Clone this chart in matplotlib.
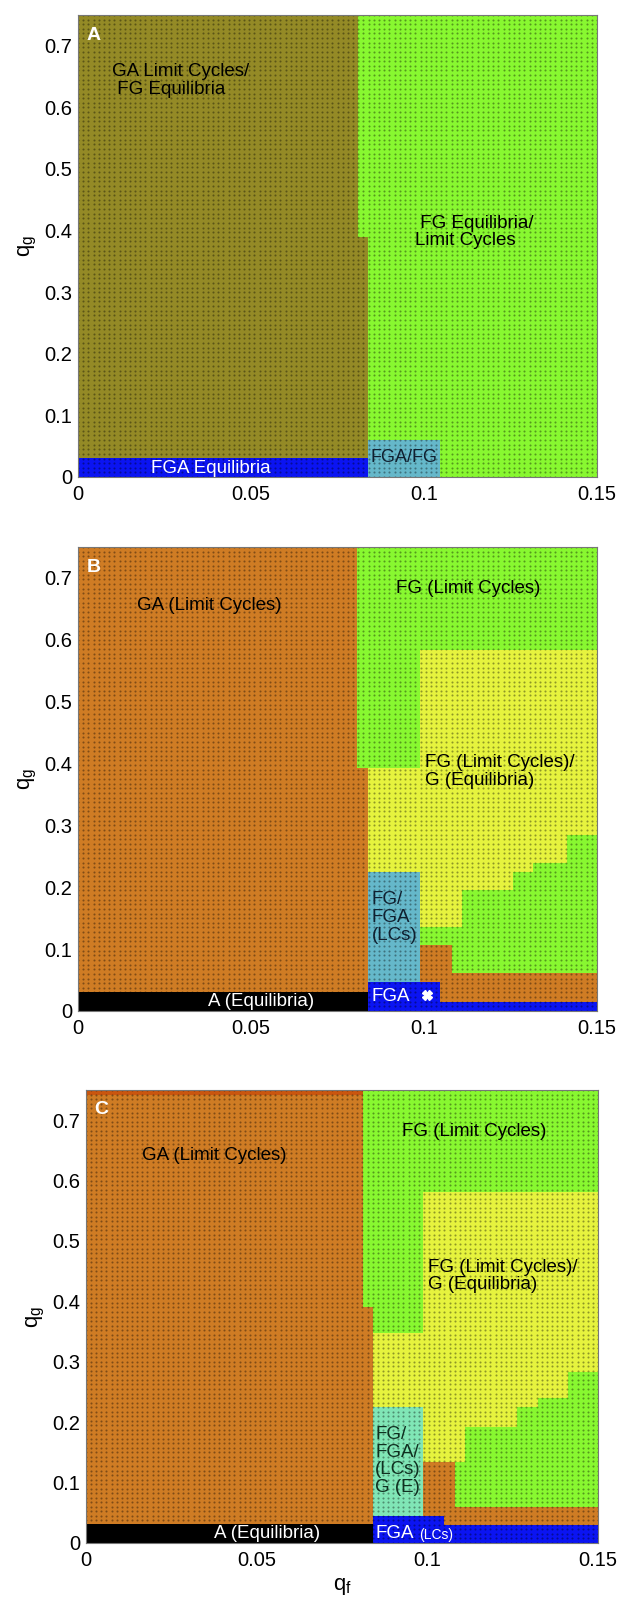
import numpy as np
import matplotlib.pyplot as plt
from matplotlib.patches import Rectangle

plt.rcParams['font.family'] = ['Liberation Sans', 'DejaVu Sans']

# phase regions: (qf_start, qf_end, qg_start, qg_end, phase), drawn in order
regions_a = [
    (0.0, 0.15, 0.0, 0.75, 'olive'),
    (0.081, 0.15, 0.389, 0.75, 'green'),
    (0.0838, 0.15, 0.0, 0.389, 'green'),
    (0.0838, 0.1046, 0.0, 0.0606, 'teal'),
    (0.0, 0.0838, 0.0, 0.031, 'blue'),
]
regions_b = [
    (0.0, 0.15, 0.0, 0.75, 'orange'),
    (0.0805, 0.15, 0.392, 0.75, 'green'),
    (0.0988, 0.15, 0.392, 0.583, 'yellow'),
    (0.0838, 0.15, 0.0, 0.392, 'yellow'),
    (0.1412, 0.15, 0.0, 0.284, 'green'),
    (0.1316, 0.15, 0.0, 0.2386, 'green'),
    (0.1258, 0.15, 0.0, 0.225, 'green'),
    (0.1109, 0.15, 0.0, 0.1955, 'green'),
    (0.0988, 0.15, 0.0, 0.136, 'green'),
    (0.0988, 0.108, 0.0, 0.1066, 'orange'),
    (0.0988, 0.15, 0.0, 0.061, 'orange'),
    (0.0838, 0.0988, 0.0, 0.225, 'teal'),
    (0.0838, 0.1046, 0.0, 0.047, 'blue'),
    (0.0838, 0.15, 0.0, 0.015, 'blue'),
    (0.0, 0.0838, 0.0, 0.031, 'black'),
]
regions_c = [
    (0.0, 0.15, 0.0, 0.75, 'orange'),
    (0.0, 0.0811, 0.741, 0.75, 'darkorange'),
    (0.0811, 0.15, 0.391, 0.75, 'green'),
    (0.0842, 0.0988, 0.347, 0.391, 'green'),
    (0.0988, 0.15, 0.347, 0.5817, 'yellow'),
    (0.0842, 0.15, 0.0, 0.347, 'yellow'),
    (0.1413, 0.15, 0.0, 0.2836, 'green'),
    (0.1325, 0.15, 0.0, 0.2395, 'green'),
    (0.1262, 0.15, 0.0, 0.2257, 'green'),
    (0.111, 0.15, 0.0, 0.1926, 'green'),
    (0.108, 0.15, 0.0, 0.1346, 'green'),
    (0.0988, 0.108, 0.0, 0.1346, 'orange'),
    (0.0988, 0.15, 0.0, 0.06, 'orange'),
    (0.0842, 0.0988, 0.0, 0.2257, 'aqua'),
    (0.0842, 0.105, 0.0, 0.0447, 'blue'),
    (0.0842, 0.15, 0.0, 0.0298, 'blue'),
    (0.0, 0.0842, 0.0, 0.031, 'black'),
]

# region labels: (qf, qg, text, colour, size, alignment)
labels_a = [
    (0.0098, 0.644, 'GA Limit Cycles/\n FG Equilibria', 'k', 13.5, 'left'),
    (0.0975, 0.398, ' FG Equilibria/\nLimit Cycles', 'k', 13.5, 'left'),
    (0.0385, 0.0146, 'FGA Equilibria', 'w', 13.5, 'center'),
    (0.0845, 0.031, 'FGA/FG', '#102030', 13, 'left'),
]
labels_b = [
    (0.017, 0.656, 'GA (Limit Cycles)', 'k', 13.5, 'left'),
    (0.092, 0.683, 'FG (Limit Cycles)', 'k', 13.5, 'left'),
    (0.1003, 0.387, 'FG (Limit Cycles)/\nG (Equilibria)', 'k', 13.5, 'left'),
    (0.0849, 0.151, 'FG/\nFGA\n(LCs)', '#102030', 13.5, 'left'),
    (0.0849, 0.024, 'FGA', 'w', 13.5, 'left'),
    (0.053, 0.0155, 'A (Equilibria)', 'w', 13.5, 'center'),
]
labels_c = [
    (0.0163, 0.642, 'GA (Limit Cycles)', 'k', 13.5, 'left'),
    (0.0925, 0.681, 'FG (Limit Cycles)', 'k', 13.5, 'left'),
    (0.1003, 0.442, 'FG (Limit Cycles)/\nG (Equilibria)', 'k', 13.5, 'left'),
    (0.0847, 0.136, 'FG/\nFGA/\n(LCs)\nG (E)', '#103020', 13.5, 'left'),
    (0.0847, 0.015, 'FGA', 'w', 13.5, 'left'),
    (0.0976, 0.013, '(LCs)', 'w', 10, 'left'),
    (0.053, 0.0155, 'A (Equilibria)', 'w', 13.5, 'center'),
]
star_b = (0.101, 0.026)

phase_colors = {
    'olive': '#948a26',
    'green': '#88f830',
    'teal': '#65b8ca',
    'blue': '#0b14f2',
    'orange': '#cf7c24',
    'darkorange': '#c9560f',
    'yellow': '#e6f33e',
    'aqua': '#80e6b6',
    'black': '#000000',
}

xticks = [0, 0.05, 0.1, 0.15]
xticklabels = ['0', '0.05', '0.1', '0.15']
yticks = [0, 0.1, 0.2, 0.3, 0.4, 0.5, 0.6, 0.7]
yticklabels = ['0', '0.1', '0.2', '0.3', '0.4', '0.5', '0.6', '0.7']

W, H = 617, 1600
fig = plt.figure(figsize=(W / 100, H / 100), dpi=100)
boxes = [(78, 15, 597, 477), (78, 547, 597, 1011), (86, 1090, 598, 1543)]
panels = [('A', regions_a, labels_a), ('B', regions_b, labels_b), ('C', regions_c, labels_c)]

# dotted simulation grid texture
gx, gy = np.meshgrid(np.linspace(0, 0.15, 101), np.linspace(0, 0.75, 101))

for (l, t, r, b), (letter, regions, labels) in zip(boxes, panels):
    ax = fig.add_axes([l / W, 1 - b / H, (r - l) / W, (b - t) / H])
    for x0, x1, y0, y1, ph in regions:
        ax.add_patch(Rectangle((x0, y0), x1 - x0, y1 - y0, facecolor=phase_colors[ph],
                               edgecolor='none', zorder=1))
    ax.scatter(gx.ravel(), gy.ravel(), s=2.2, c='k', alpha=0.38, linewidths=0, zorder=2)
    for x, y, txt, col, fs, ha in labels:
        ax.text(x, y, txt, color=col, fontsize=fs, ha=ha, va='center',
                linespacing=1.05, zorder=3)
    ax.text(0.0025, 0.717, letter, color='w', fontsize=14, fontweight='bold',
            ha='left', va='center', zorder=3)
    if letter == 'B':
        ax.plot(*star_b, marker='X', color='w', markersize=7, zorder=3)
    ax.set_xlim(0, 0.15)
    ax.set_ylim(0, 0.75)
    ax.set_xticks(xticks)
    ax.set_xticklabels(xticklabels)
    ax.set_yticks(yticks)
    ax.set_yticklabels(yticklabels)
    ax.tick_params(length=0, labelsize=14.5)
    ax.tick_params(axis='x', pad=6)
    ax.tick_params(axis='y', pad=4)
    for s in ax.spines.values():
        s.set_color('#777777')
        s.set_linewidth(0.8)
    ax.set_ylabel('q$_\\mathregular{g}$', fontsize=16, labelpad=4)
    if letter == 'C':
        ax.set_xlabel('q$_\\mathregular{f}$', fontsize=16, labelpad=4)

fig.savefig('out.png', dpi=100)
